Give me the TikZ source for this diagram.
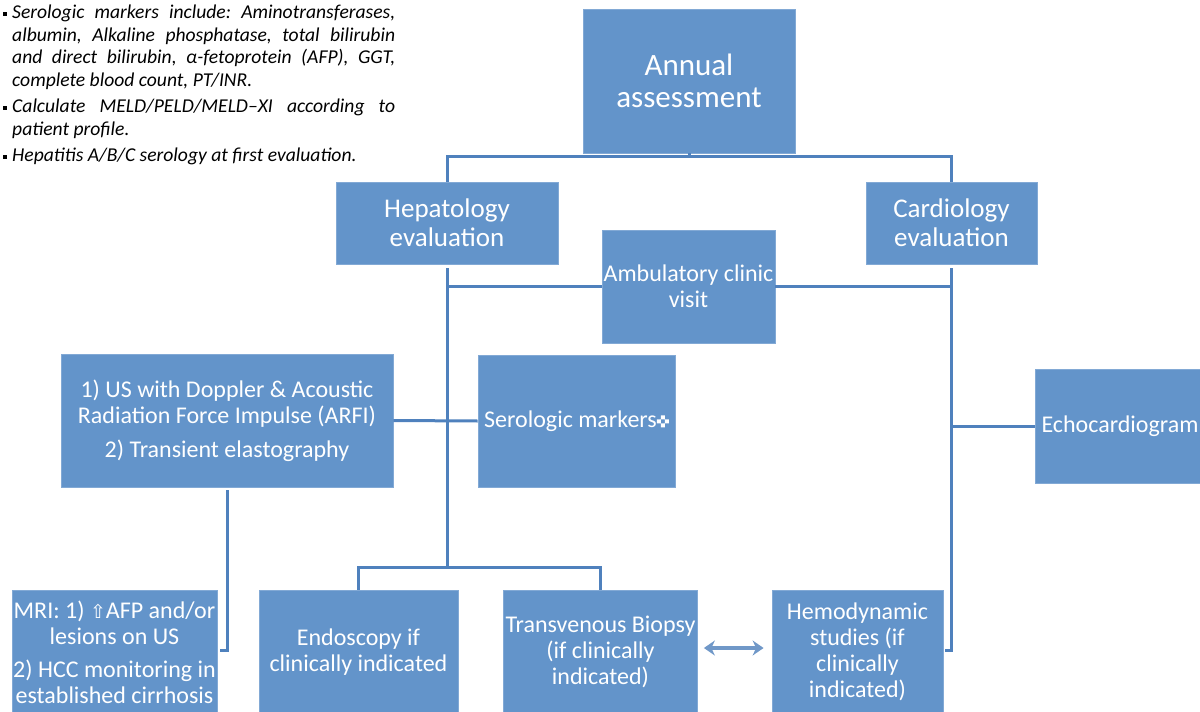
\documentclass[tikz,border=0pt]{standalone}
\usepackage{fontspec}
\setmainfont{Carlito}
\newfontfamily\symfont{DejaVu Sans}
\usetikzlibrary{arrows.meta}

\definecolor{boxblue}{RGB}{99,148,202}
\definecolor{lineblue}{RGB}{79,129,189}
\definecolor{arrowblue}{RGB}{112,152,200}

\tikzset{
  box/.style={fill=boxblue, draw=boxblue!80!white, line width=0.8pt, text=white,
    align=center, inner sep=2pt, font=\fontsize{24}{26}\selectfont},
  link/.style={draw=lineblue, line width=3pt},
}
\newcommand{\notebullet}{\leavevmode\llap{\rule[3pt]{4pt}{4pt}\hspace{5pt}}}
\newcommand{\quadmark}{\tikz[baseline=0pt]{\fill[white] (4pt,0pt) rectangle ++(4pt,4pt)
  (0pt,4pt) rectangle ++(4pt,4pt) (8pt,4pt) rectangle ++(4pt,4pt) (4pt,8pt) rectangle ++(4pt,4pt);}}

\begin{document}
\begin{tikzpicture}[x=1pt,y=-1pt]
        \useasboundingbox (0,0) rectangle (1200,712);
        % notes
        \node[anchor=north west, text width=383pt, inner sep=0pt, align=justify,
          font=\fontsize{19.6}{22.5}\selectfont\itshape\frenchspacing] (notes) at (12,5) {%
          \setlength{\parskip}{4pt}%
          \notebullet Serologic markers include: Aminotransferases,\linebreak
          albumin, Alkaline phosphatase, total bilirubin\linebreak
          and direct bilirubin, α-fetoprotein (AFP), GGT,\linebreak
          complete blood count, PT/INR.\par
          \notebullet Calculate MELD/PELD/MELD--XI according to\linebreak
          patient profile.\par
          \notebullet Hepatitis A/B/C serology at first evaluation.};
        % boxes
        \node[box, minimum width=212pt, minimum height=144pt, font=\fontsize{31}{32}\selectfont] (annual) at (689,81) {Annual\\assessment};
        \node[box, minimum width=222pt, minimum height=82pt, font=\fontsize{27}{29}\selectfont] (hep) at (447,223) {Hepatology\\evaluation};
        \node[box, minimum width=171pt, minimum height=82pt, font=\fontsize{27}{29}\selectfont] (card) at (951.5,223) {Cardiology\\evaluation};
        \node[box, minimum width=173pt, minimum height=113pt, inner sep=0pt] (amb) at (688.5,286.5) {Ambulatory clinic\\visit};
        \node[box, minimum width=332pt, minimum height=133pt] (us) at (227,420.5) {1) US with Doppler \& Acoustic\\Radiation Force Impulse (ARFI)\\[8pt]2) Transient elastography};
        \node[box, minimum width=197pt, minimum height=132pt] (sero) at (576.5,421) {Serologic markers\quadmark};
        \node[box, minimum width=170pt, minimum height=114pt] (echo) at (1120,426) {Echocardiogram};
        \node[box, minimum width=205pt, minimum height=124pt, inner sep=0pt] (mri) at (114.5,652) {MRI: 1) {\symfont\fontsize{19}{26}\selectfont ⇧}AFP and/or\\lesions on US\\[7pt]2) HCC monitoring in\\established cirrhosis};
        \node[box, minimum width=199pt, minimum height=124pt] (endo) at (358.5,652) {Endoscopy if\\clinically indicated};
        \node[box, minimum width=193pt, minimum height=124pt] (trans) at (600.5,652) {Transvenous Biopsy\\(if clinically\\indicated)};
        \node[box, minimum width=171pt, minimum height=124pt] (hemo) at (857.5,652) {Hemodynamic\\studies (if\\clinically\\indicated)};
        % join points
        \coordinate (hepend) at (447,568);
        \coordinate (cardend) at (951.5,650);
        \coordinate (usend) at (227,650);
        % connectors
        \draw[link] (annual.south) -- ++(0,5);
        \draw[link] (hep.north) -- ++(0,-25) -| (card.north);
        \draw[link] ([yshift=-4pt]hep.south) -- (hepend);
        \draw[link] (hep.south |- amb.west) -- (amb.west);
        \draw[link] (amb.east) -- (card.south |- amb.east);
        \draw[link] ([yshift=-4pt]card.south) -- (cardend) -- ++(-7,0);
        \draw[link] (card.south |- echo.west) -- (echo.west);
        \draw[link] (us.east) -- (sero.west);
        \draw[link] ([yshift=-3pt]us.south) -- (usend) -- ++(-7,0);
        \draw[link] (endo.north) -- ++(0,-22) -| (trans.north);
        \draw [arrowblue, line width=3.5pt, {Stealth[length=11pt,width=15pt]}-{Stealth[length=11pt,width=15pt]}]
          ([xshift=6pt,yshift=4pt]trans.east) -- ([xshift=-8pt,yshift=4pt]hemo.west);
    \end{tikzpicture}
\end{document}
